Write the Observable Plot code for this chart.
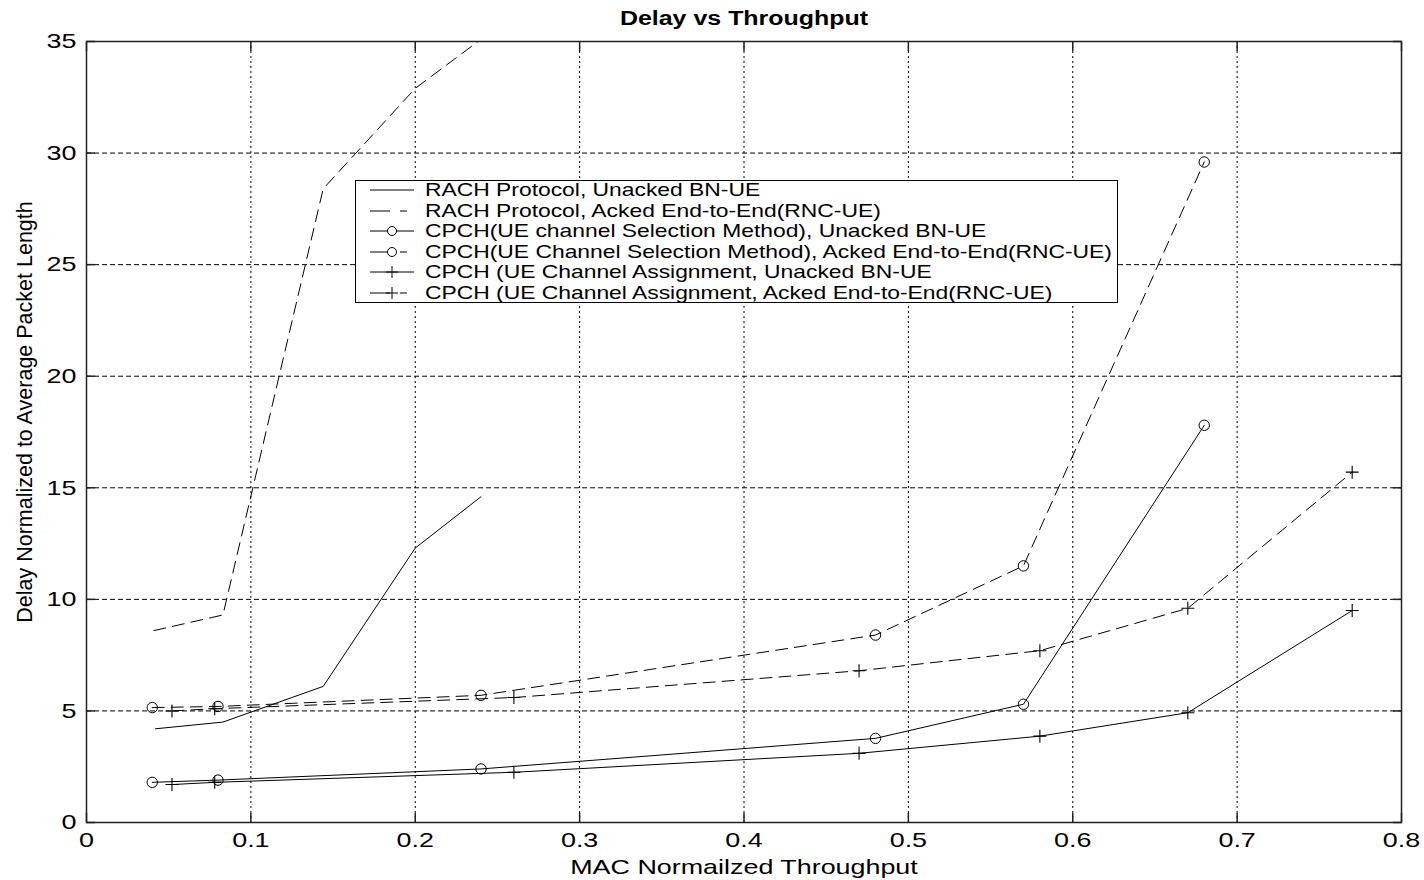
<!DOCTYPE html>
<html>
<head>
<meta charset="utf-8">
<script src="https://cdn.jsdelivr.net/npm/d3@7"></script>
<script src="https://cdn.jsdelivr.net/npm/@observablehq/plot@0.6"></script>
<style>
  html, body { margin: 0; padding: 0; background: #fff; }
  #wrap { position: relative; width: 1424px; height: 880px; overflow: hidden; background: #fff; }
  #legend { position: absolute; left: 355px; top: 180px; width: 763px; height: 123px; border: 1px solid #000;
            background: #fff; box-sizing: border-box; font-family: "Liberation Sans", Arial, sans-serif; }
  .lrow { position: absolute; left: 0; height: 20px; width: 760px; }
  .lrow svg { position: absolute; left: 0; top: 0; }
  .lrow span { position: absolute; left: 69px; top: 0; line-height: 20px; font-size: 18.5px; white-space: nowrap;
               transform: scaleX(1.235); transform-origin: left center; color: #000; }
</style>
</head>
<body>
<div id="wrap"><div id="chart"></div><div id="legend"></div></div>
<script>
// ---- data ----
const chartTitle = "Delay vs Throughput";
const xLabel = "MAC Normailzed Throughput";
const yLabel = "Delay Normalized to Average Packet Length";

const xTicks = [0, 0.1, 0.2, 0.3, 0.4, 0.5, 0.6, 0.7, 0.8];
const xTickLabels = ["0", "0.1", "0.2", "0.3", "0.4", "0.5", "0.6", "0.7", "0.8"];
const yTicks = [0, 5, 10, 15, 20, 25, 30, 35];
const yTickLabels = ["0", "5", "10", "15", "20", "25", "30", "35"];

const seriesNames = [
  "RACH Protocol, Unacked BN-UE",
  "RACH Protocol, Acked End-to-End(RNC-UE)",
  "CPCH(UE channel Selection Method), Unacked BN-UE",
  "CPCH(UE Channel Selection Method), Acked End-to-End(RNC-UE)",
  "CPCH (UE Channel Assignment, Unacked BN-UE",
  "CPCH (UE Channel Assignment, Acked End-to-End(RNC-UE)"
];

const rachUnackedX = [0.042, 0.083, 0.144, 0.2, 0.24];
const rachUnackedY = [4.2, 4.5, 6.1, 12.3, 14.6];
const rachAckedX = [0.041, 0.083, 0.144, 0.2, 0.24];
const rachAckedY = [8.6, 9.3, 28.4, 32.9, 35.1];
const selX = [0.04, 0.08, 0.24, 0.48, 0.57, 0.68];
const selUnackedY = [1.8, 1.9, 2.4, 3.77, 5.3, 17.8];
const selAckedY = [5.15, 5.2, 5.7, 8.4, 11.5, 29.6];
const asgX = [0.052, 0.078, 0.26, 0.47, 0.58, 0.67, 0.77];
const asgUnackedY = [1.7, 1.8, 2.25, 3.1, 3.87, 4.92, 9.5];
const asgAckedY = [5.0, 5.1, 5.6, 6.8, 7.7, 9.6, 15.7];

// ---- build tables ----
const zip = (xs, ys) => xs.map((x, i) => ({x, y: ys[i]}));
const dataRachU = zip(rachUnackedX, rachUnackedY);
const dataRachA = zip(rachAckedX, rachAckedY);
const dataSelU = zip(selX, selUnackedY);
const dataSelA = zip(selX, selAckedY);
const dataAsgU = zip(asgX, asgUnackedY);
const dataAsgA = zip(asgX, asgAckedY);

const xLab = new Map(xTicks.map((t, i) => [t, xTickLabels[i]]));
const yLab = new Map(yTicks.map((t, i) => [t, yTickLabels[i]]));

const DASH = "12,7";
const plusSymbol = {
  draw(context, size) {
    const r = Math.sqrt(size / Math.PI);
    context.moveTo(-r, 0); context.lineTo(r, 0);
    context.moveTo(0, -r); context.lineTo(0, r);
  }
};
const lineOpts = (dash) => ({x: "x", y: "y", stroke: "black", strokeWidth: 1, clip: true, strokeDasharray: dash});
const circleOpts = {x: "x", y: "y", r: 5.2, stroke: "black", strokeWidth: 1, fill: "none"};
const plusOpts = {x: "x", y: "y", r: 6.5, symbol: plusSymbol, stroke: "black", strokeWidth: 1.1, fill: "none"};

const chart = Plot.plot({
  width: 1424,
  height: 880,
  marginLeft: 86,
  marginRight: 23,
  marginTop: 41,
  marginBottom: 58,
  style: {fontFamily: '"Liberation Sans", Arial, sans-serif', fontSize: "21px", color: "black", background: "white", overflow: "visible"},
  x: {domain: [0, 0.8]},
  y: {domain: [0, 35]},
  marks: [
    Plot.gridX(xTicks, {stroke: "black", strokeOpacity: 1, strokeWidth: 1, strokeDasharray: "2,3"}),
    Plot.gridY(yTicks, {stroke: "black", strokeOpacity: 1, strokeWidth: 1, strokeDasharray: "5,3"}),
    Plot.axisX(xTicks, {anchor: "bottom", tickSize: -9, tickPadding: 19, tickFormat: d => xLab.get(d), label: null, stroke: "#222", strokeWidth: 1.5}),
    Plot.axisX(xTicks, {anchor: "top", tickSize: -9, tickFormat: () => "", fill: "none", label: null, stroke: "#222", strokeWidth: 1.5}),
    Plot.axisY(yTicks, {anchor: "left", tickSize: -9, tickPadding: 19, tickFormat: d => yLab.get(d), label: null, stroke: "#222", strokeWidth: 1.5}),
    Plot.axisY(yTicks, {anchor: "right", tickSize: -9, tickFormat: () => "", fill: "none", label: null, stroke: "#222", strokeWidth: 1.5}),
    Plot.line(dataRachU, lineOpts(null)),
    Plot.line(dataRachA, lineOpts(DASH)),
    Plot.line(dataSelU, lineOpts(null)),
    Plot.dot(dataSelU, circleOpts),
    Plot.line(dataSelA, lineOpts(DASH)),
    Plot.dot(dataSelA, circleOpts),
    Plot.line(dataAsgU, lineOpts(null)),
    Plot.dot(dataAsgU, plusOpts),
    Plot.line(dataAsgA, lineOpts(DASH)),
    Plot.dot(dataAsgA, plusOpts),
    Plot.frame({stroke: "#222", strokeWidth: 1.5}),
    Plot.text([chartTitle], {text: d => d, frameAnchor: "top", lineAnchor: "middle", textAnchor: "middle", dy: -23, fontWeight: "bold", fontSize: 19.5, fill: "black"}),
    Plot.text([xLabel], {text: d => d, frameAnchor: "bottom", lineAnchor: "middle", textAnchor: "middle", dy: 45, fontSize: 21, fill: "black"}),
    Plot.text([yLabel], {text: d => d, frameAnchor: "left", lineAnchor: "middle", textAnchor: "middle", dx: -61, dy: -20, rotate: -90, fontSize: 21.5, fill: "black"})
  ]
});
document.getElementById("chart").appendChild(chart);

// horizontal stretch of the reference's lettering
chart.querySelectorAll("text").forEach(t => {
  const tr = (t.getAttribute("transform") || "");
  if (tr.includes("rotate")) return;
  const L = t.getComputedTextLength();
  if (L > 0) {
    t.setAttribute("textLength", (L * 1.28).toFixed(1));
    t.setAttribute("lengthAdjust", "spacingAndGlyphs");
  }
});

// ---- legend ----
const legendStyles = [
  {dash: null, marker: null},
  {dash: "20,10,7,100", marker: null},
  {dash: null, marker: "circle"},
  {dash: "20,10,7,100", marker: "circle"},
  {dash: null, marker: "plus"},
  {dash: "20,10,7,100", marker: "plus"}
];
const legend = document.getElementById("legend");
seriesNames.forEach((name, i) => {
  const row = document.createElement("div");
  row.className = "lrow";
  row.style.top = (-1 + i * 20.6) + "px";
  const st = legendStyles[i];
  const ns = "http://www.w3.org/2000/svg";
  const s = document.createElementNS(ns, "svg");
  s.setAttribute("width", "64"); s.setAttribute("height", "20");
  const ln = document.createElementNS(ns, "line");
  ln.setAttribute("x1", 14); ln.setAttribute("x2", 58); ln.setAttribute("y1", 10); ln.setAttribute("y2", 10);
  ln.setAttribute("stroke", "black"); ln.setAttribute("stroke-width", 1);
  if (st.dash) ln.setAttribute("stroke-dasharray", st.dash);
  s.appendChild(ln);
  if (st.marker === "circle") {
    const c = document.createElementNS(ns, "circle");
    c.setAttribute("cx", 36); c.setAttribute("cy", 10); c.setAttribute("r", 4.5);
    c.setAttribute("fill", "white"); c.setAttribute("stroke", "black");
    s.appendChild(c);
  } else if (st.marker === "plus") {
    const p = document.createElementNS(ns, "path");
    p.setAttribute("d", "M30,10H42M36,4V16");
    p.setAttribute("stroke", "black"); p.setAttribute("fill", "none");
    s.appendChild(p);
  }
  row.appendChild(s);
  const sp = document.createElement("span");
  sp.textContent = name;
  row.appendChild(sp);
  legend.appendChild(row);
});
</script>
</body>
</html>
